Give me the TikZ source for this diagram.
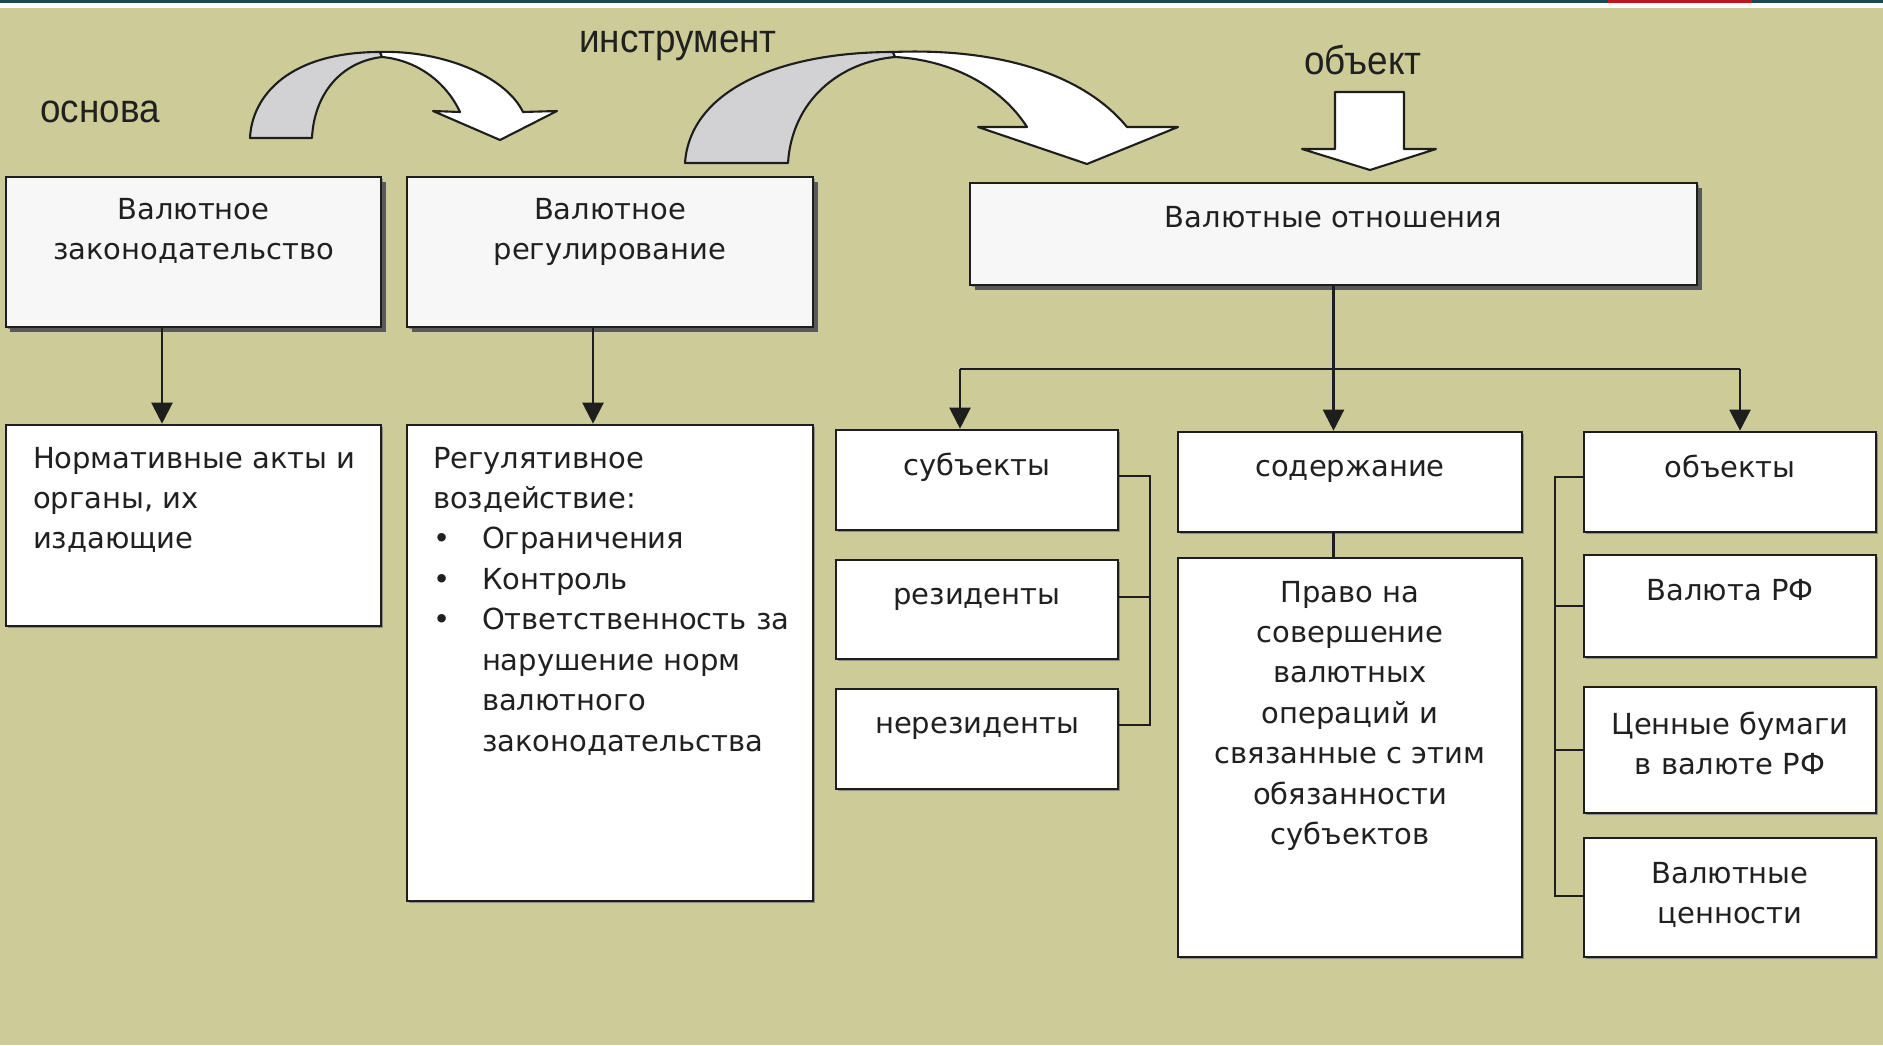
\documentclass[tikz,border=0pt]{standalone}
\usepackage{fontspec}
\setmainfont{DejaVu Sans}
\newfontfamily\labelfont[FakeStretch=0.92]{Liberation Sans}
\usepackage{tikz}
\usetikzlibrary{fit,positioning,arrows.meta,shadows}

\definecolor{olive}{RGB}{205,204,152}
\definecolor{topbar}{RGB}{28,72,82}
\definecolor{barred}{RGB}{190,24,28}
\definecolor{linec}{RGB}{30,30,30}
\definecolor{textc}{RGB}{32,32,32}
\definecolor{greyarc}{RGB}{210,210,212}
\definecolor{boxgrey}{RGB}{247,247,247}

\begin{document}
\begin{tikzpicture}[x=0.02cm,y=-0.02cm]
\tikzstyle{box}=[rectangle, draw=linec, line width=1.5pt, fill=white, inner sep=0pt, drop shadow={shadow xshift=0.04cm, shadow yshift=-0.04cm, fill=black!45, opacity=1}]
\tikzstyle{topbox}=[box, fill=boxgrey, drop shadow={shadow xshift=0.09cm, shadow yshift=-0.09cm, fill=black!65, opacity=1}]
\tikzstyle{txt}=[inner sep=0pt, text=textc, font=\fontsize{16.5}{23}\selectfont, execute at begin node=\vphantom{Б}]
\tikzstyle{lbl}=[inner sep=0pt, text=textc, font=\labelfont\fontsize{22.8}{26}\selectfont]
\tikzstyle{connect}=[-{Triangle[length=0.42cm,width=0.42cm]}, line width=1.3pt, draw=linec]
\tikzstyle{link}=[line width=1.3pt, draw=linec]
\tikzstyle{curvearrow}=[draw=linec, line width=1.2pt, line join=round]

\fill[olive] (0,0) rectangle (1883,1045);
\useasboundingbox (0,0) rectangle (1883,1045);
\fill[topbar] (0,0) rectangle (1883,3);
\fill[barred] (1608,0) rectangle (1752,3);
\fill[white] (0,3) rectangle (1883,8);

\filldraw[curvearrow, fill=greyarc] (250,138) .. controls (252,95) and (290,52) .. (380,52) -- (382,57) .. controls (340,62) and (314,95) .. (312,138) -- cycle;
\filldraw[curvearrow, fill=white] (380,52) .. controls (440,50) and (505,75) .. (523,112) -- (557,111) -- (500,140) -- (433,111) -- (460,112) .. controls (445,80) and (415,60) .. (382,57) -- cycle;
\filldraw[curvearrow, fill=greyarc] (685,163) .. controls (690,90) and (780,52) .. (893,52) -- (895,57) .. controls (840,62) and (792,100) .. (788,163) -- cycle;
\filldraw[curvearrow, fill=white] (893,52) .. controls (990,48) and (1080,70) .. (1127,127) -- (1178,127) -- (1087,164) -- (978,127) -- (1027,127) .. controls (1000,85) and (950,60) .. (895,57) -- cycle;
\filldraw[curvearrow, fill=white] (1335,92) -- (1404,92) -- (1404,149) -- (1436,149) -- (1370,170) -- (1302,149) -- (1335,149) -- cycle;

\node[lbl] (osnova) at (100,112) {основа};
\node[lbl] (instr) at (678,46) {инструмент};
\node[lbl] (objekt) at (1363,60) {объект};

\node[topbox, fit={(6,177)(381,327)}] (zak) {};
\node[topbox, fit={(407,177)(813,327)}] (reg) {};
\node[topbox, fit={(970,183)(1697,285)}] (otn) {};
\node[box, fit={(6,425)(381,626)}] (norm) {};
\node[box, fit={(407,425)(813,901)}] (vozd) {};
\node[box, fit={(836,430)(1118,530)}] (subj) {};
\node[box, fit={(836,560)(1118,659)}] (rez) {};
\node[box, fit={(836,689)(1118,789)}] (nerez) {};
\node[box, fit={(1178,432)(1522,532)}] (soder) {};
\node[box, fit={(1178,558)(1522,957)}] (pravo) {};
\node[box, fit={(1584,432)(1876,532)}] (obj) {};
\node[box, fit={(1584,555)(1876,657)}] (valuta) {};
\node[box, fit={(1584,687)(1876,813)}] (bumagi) {};
\node[box, fit={(1584,838)(1876,957)}] (cenn) {};

\node[txt, align=center, anchor=north] (zak-t) at ([yshift=-0.44cm]zak.north) {Валютное\\законодательство};
\node[txt, align=center, anchor=north] (reg-t) at ([yshift=-0.44cm]reg.north) {Валютное\\регулирование};
\node[txt, anchor=north] (otn-t) at ([yshift=-0.48cm]otn.north) {Валютные отношения};
\node[txt, align=left, anchor=north west] (norm-t) at ([xshift=0.56cm, yshift=-0.46cm]norm.north west) {Нормативные акты и\\органы, их\\издающие};
\node[txt, align=left, anchor=north west] (vozd-t) at ([xshift=0.54cm, yshift=-0.46cm]vozd.north west) {Регулятивное\\воздействие:\\
\makebox[0.98cm][l]{\textbullet}Ограничения\\
\makebox[0.98cm][l]{\textbullet}Контроль\\
\makebox[0.98cm][l]{\textbullet}Ответственность за\\
\hspace*{0.98cm}нарушение норм\\
\hspace*{0.98cm}валютного\\
\hspace*{0.98cm}законодательства};
\node[txt, anchor=north] (subj-t) at ([yshift=-0.48cm]subj.north) {субъекты};
\node[txt, anchor=north] (rez-t) at ([yshift=-0.48cm]rez.north) {резиденты};
\node[txt, anchor=north] (nerez-t) at ([yshift=-0.48cm]nerez.north) {нерезиденты};
\node[txt, anchor=north] (soder-t) at ([yshift=-0.48cm]soder.north) {содержание};
\node[txt, align=center, anchor=north] (pravo-t) at ([yshift=-0.48cm]pravo.north) {Право на\\совершение\\валютных\\операций и\\связанные с этим\\обязанности\\субъектов};
\node[txt, anchor=north] (obj-t) at ([yshift=-0.48cm]obj.north) {объекты};
\node[txt, anchor=north] (valuta-t) at ([yshift=-0.5cm]valuta.north) {Валюта РФ};
\node[txt, align=center, anchor=north] (bumagi-t) at ([yshift=-0.52cm]bumagi.north) {Ценные бумаги\\в валюте РФ};
\node[txt, align=center, anchor=north] (cenn-t) at ([yshift=-0.5cm]cenn.north) {Валютные\\ценности};

\draw[connect] ([xshift=-0.63cm]zak.south) -- ([xshift=-0.63cm]norm.north);
\draw[connect] ([xshift=-0.34cm]reg.south) -- ([xshift=-0.34cm]vozd.north);
\coordinate (brL) at (960,369);
\coordinate (brR) at (1740,369);
\draw[link] (brL) -- (brR);
\draw[connect] (otn.south) -- (otn.south |- soder.north);
\draw[connect] (brL) -- (brL |- subj.north);
\draw[connect] (brR) -- (brR |- obj.north);
\draw[link] (otn.south |- soder.south) -- (otn.south |- pravo.north);
\draw[link] ([yshift=0.08cm]subj.east) -- ++(31,0) |- ([yshift=0.28cm]nerez.east);
\draw[link] ([yshift=0.25cm]rez.east) -- ++(31,0);
\draw[link] ([yshift=0.1cm]obj.west) -- ++(-28,0) |- ([yshift=0.03cm]cenn.west);
\draw[link] (valuta.west) -- ++(-28,0);
\draw[link] (bumagi.west) -- ++(-28,0);
\end{tikzpicture}
\end{document}
